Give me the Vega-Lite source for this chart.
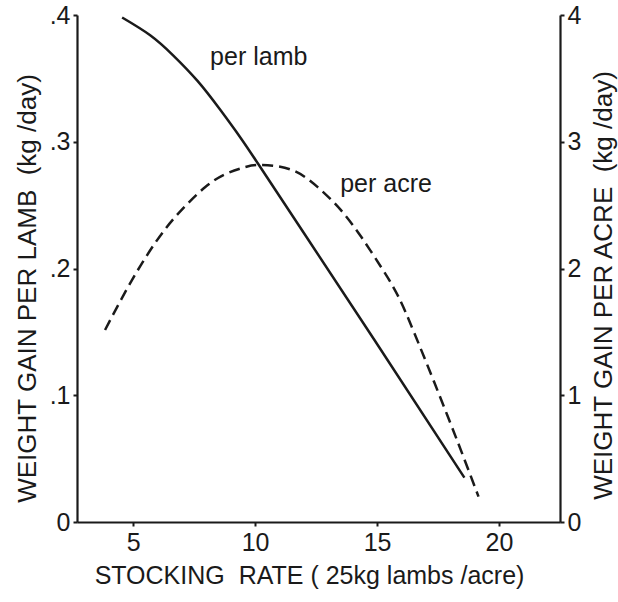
{
  "$schema": "https://vega.github.io/schema/vega-lite/v6.json",
  "width": 483,
  "height": 507,
  "autosize": "none",
  "padding": {"left": 77, "top": 15, "right": 58, "bottom": 80},
  "background": "white",
  "config": {
    "view": {"stroke": null},
    "font": "Liberation Sans",
    "axis": {
      "domainColor": "#1a1a1a", "domainWidth": 2.2, "tickColor": "#1a1a1a", "tickWidth": 2,
      "labelColor": "#1a1a1a", "titleColor": "#1a1a1a", "labelFont": "Liberation Sans", "titleFont": "Liberation Sans",
      "labelFontSize": 25, "titleFontSize": 25, "titleFontWeight": "normal", "grid": false, "tickSize": 4
    }
  },
  "datasets": {
    "lamb": [
      {"rate": 4.55, "gain": 0.398},
      {"rate": 5.7, "gain": 0.384},
      {"rate": 6.65, "gain": 0.368},
      {"rate": 7.64, "gain": 0.348},
      {"rate": 8.58, "gain": 0.325},
      {"rate": 9.41, "gain": 0.303},
      {"rate": 10.11, "gain": 0.283},
      {"rate": 12.0, "gain": 0.228},
      {"rate": 14.88, "gain": 0.144},
      {"rate": 18.58, "gain": 0.035}
    ],
    "acre": [
      {"rate": 3.85, "gain": 1.515},
      {"rate": 4.68, "gain": 1.815},
      {"rate": 5.5, "gain": 2.083},
      {"rate": 6.32, "gain": 2.312},
      {"rate": 7.14, "gain": 2.493},
      {"rate": 7.96, "gain": 2.643},
      {"rate": 8.79, "gain": 2.745},
      {"rate": 9.61, "gain": 2.801},
      {"rate": 10.23, "gain": 2.817},
      {"rate": 11.47, "gain": 2.78},
      {"rate": 12.58, "gain": 2.64},
      {"rate": 13.52, "gain": 2.46},
      {"rate": 14.35, "gain": 2.25},
      {"rate": 15.17, "gain": 2.01},
      {"rate": 15.87, "gain": 1.78},
      {"rate": 16.53, "gain": 1.49},
      {"rate": 17.35, "gain": 1.1},
      {"rate": 18.34, "gain": 0.615},
      {"rate": 19.16, "gain": 0.2}
    ],
    "lambLabel": [{"rate": 10.15, "gain": 0.367, "label": "per lamb"}],
    "acreLabel": [{"rate": 15.37, "gain": 2.67, "label": "per acre"}]
  },
  "layer": [
    {
      "layer": [
        {
          "data": {"name": "lamb"},
          "mark": {"type": "line", "color": "#1a1a1a", "strokeWidth": 2.5, "interpolate": "natural"},
          "encoding": {
            "x": {"field": "rate", "type": "quantitative", "scale": {"domain": [2.7, 22.5], "nice": false, "zero": false},
              "axis": {"values": [5, 10, 15, 20], "title": "STOCKING\u00a0\u00a0RATE (\u00a025kg lambs\u00a0/acre)", "titlePadding": 8, "labelPadding": 4, "titleX": 232}},
            "y": {"field": "gain", "type": "quantitative", "scale": {"domain": [0, 0.4], "nice": false},
              "axis": {"values": [0, 0.1, 0.2, 0.3, 0.4], "labelExpr": "datum.value == 0 ? '0' : replace(format(datum.value, '.1f'), '0.', '.')",
                "title": "WEIGHT GAIN PER LAMB\u00a0\u00a0(kg\u00a0/day)", "titleFontSize": 26, "titlePadding": 9, "labelPadding": 3, "titleY": 273}}
          }
        },
        {
          "data": {"name": "lambLabel"},
          "mark": {"type": "text", "fontSize": 25, "color": "#1a1a1a", "font": "Liberation Sans"},
          "encoding": {
            "x": {"field": "rate", "type": "quantitative"},
            "y": {"field": "gain", "type": "quantitative"},
            "text": {"field": "label"}
          }
        }
      ]
    },
    {
      "layer": [
        {
          "data": {"name": "acre"},
          "mark": {"type": "line", "color": "#1a1a1a", "strokeWidth": 2.5, "strokeDash": [11, 6], "interpolate": "natural"},
          "encoding": {
            "x": {"field": "rate", "type": "quantitative"},
            "y": {"field": "gain", "type": "quantitative", "scale": {"domain": [0, 4], "nice": false},
              "axis": {"orient": "right", "values": [0, 1, 2, 3, 4], "format": "d", "title": "WEIGHT GAIN PER ACRE\u00a0\u00a0(kg\u00a0/day)", "titleFontSize": 26, "titleAngle": -90, "titlePadding": 36, "labelPadding": 3, "titleY": 270}}
          }
        },
        {
          "data": {"name": "acreLabel"},
          "mark": {"type": "text", "fontSize": 25, "color": "#1a1a1a", "font": "Liberation Sans"},
          "encoding": {
            "x": {"field": "rate", "type": "quantitative"},
            "y": {"field": "gain", "type": "quantitative"},
            "text": {"field": "label"}
          }
        }
      ]
    }
  ],
  "resolve": {"scale": {"y": "independent"}}
}
